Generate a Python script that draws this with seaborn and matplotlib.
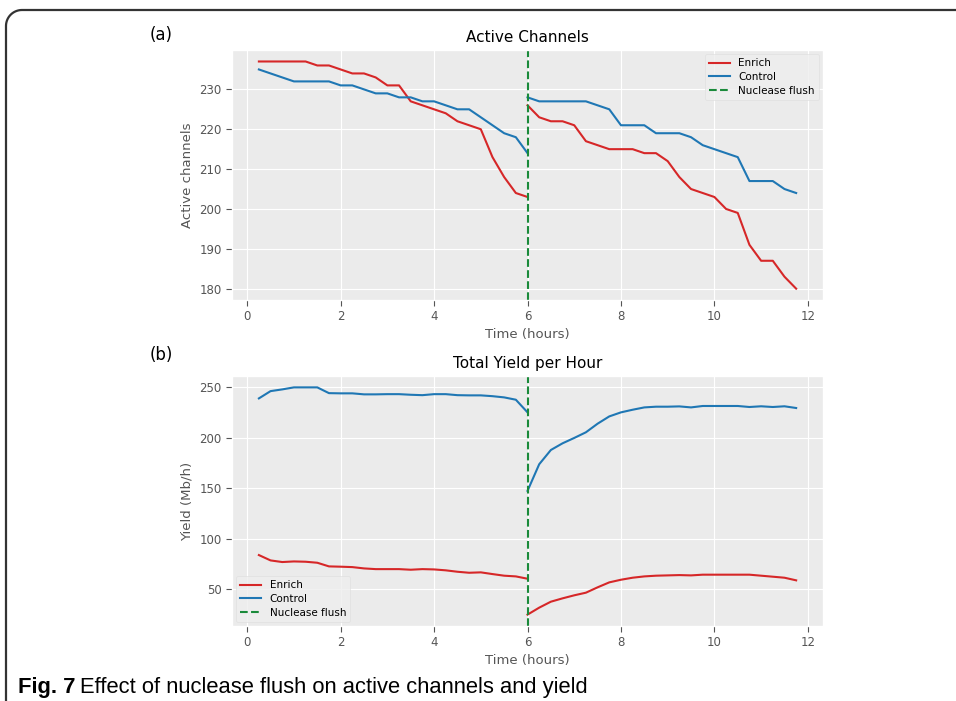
import numpy as np
import pandas as pd
import seaborn as sns
import matplotlib.pyplot as plt
from matplotlib.lines import Line2D

# == Data == #

time_before = [0.25, 0.5, 0.75, 1.0, 1.25, 1.5, 1.75, 2.0, 2.25, 2.5, 2.75, 3.0,
               3.25, 3.5, 3.75, 4.0, 4.25, 4.5, 4.75, 5.0, 5.25, 5.5, 5.75, 6.0]
time_after = [6.0, 6.25, 6.5, 6.75, 7.0, 7.25, 7.5, 7.75, 8.0, 8.25, 8.5, 8.75,
              9.0, 9.25, 9.5, 9.75, 10.0, 10.25, 10.5, 10.75, 11.0, 11.25, 11.5, 11.75]

channels_enrich_before = [237, 237, 237, 237, 237, 236, 236, 235, 234, 234, 233, 231,
                          231, 227, 226, 225, 224, 222, 221, 220, 213, 208, 204, 203]
channels_enrich_after = [226, 223, 222, 222, 221, 217, 216, 215, 215, 215, 214, 214,
                         212, 208, 205, 204, 203, 200, 199, 191, 187, 187, 183, 180]
channels_control_before = [235, 234, 233, 232, 232, 232, 232, 231, 231, 230, 229, 229,
                           228, 228, 227, 227, 226, 225, 225, 223, 221, 219, 218, 214]
channels_control_after = [228, 227, 227, 227, 227, 227, 226, 225, 221, 221, 221, 219,
                          219, 219, 218, 216, 215, 214, 213, 207, 207, 207, 205, 204]

yield_enrich_before = [83.9, 78.6, 77.0, 77.6, 77.3, 76.3, 72.7, 72.4, 72.0, 70.7, 70.0, 70.0,
                       70.0, 69.4, 70.0, 69.7, 68.8, 67.4, 66.4, 66.8, 65.1, 63.5, 62.8, 60.5]
yield_enrich_after = [25.0, 31.9, 37.8, 41.1, 44.1, 46.7, 52.0, 56.9, 59.5, 61.5, 62.8, 63.5,
                      63.8, 64.1, 63.8, 64.5, 64.5, 64.5, 64.5, 64.5, 63.5, 62.5, 61.5, 58.9]
yield_control_before = [238.8, 246.0, 247.7, 249.7, 249.7, 249.7, 244.0, 243.8, 243.8, 242.8, 242.8, 243.0,
                        243.0, 242.4, 242.0, 243.0, 243.0, 242.0, 241.8, 241.8, 241.0, 239.8, 237.5, 225.0]
yield_control_after = [147.4, 173.7, 187.8, 194.4, 199.7, 205.3, 213.8, 221.0, 225.0, 227.6, 229.9, 230.6,
                       230.6, 230.9, 229.9, 231.3, 231.3, 231.3, 231.3, 230.3, 231.0, 230.3, 231.0, 229.3]

flush_time = 6.0


def make_frame(enrich_before, enrich_after, control_before, control_after):
    parts = []
    for name, seg, t, v in [('Enrich', 'before', time_before, enrich_before),
                            ('Enrich', 'after', time_after, enrich_after),
                            ('Control', 'before', time_before, control_before),
                            ('Control', 'after', time_after, control_after)]:
        parts.append(pd.DataFrame({'time': t, 'value': v,
                                   'series': name, 'segment': name + seg}))
    return pd.concat(parts, ignore_index=True)


dfChannels = make_frame(channels_enrich_before, channels_enrich_after,
                        channels_control_before, channels_control_after)
dfYield = make_frame(yield_enrich_before, yield_enrich_after,
                     yield_control_before, yield_control_after)

# == Style == #

plt.style.use('ggplot')
plt.rcParams['font.family'] = ['DejaVu Sans']
plt.rcParams['axes.facecolor'] = '#EBEBEB'
palette = {'Enrich': '#d62728', 'Control': '#1f77b4'}
flush_color = '#1a8a3a'

fig = plt.figure(figsize=(9.56, 7.01), dpi=100)
fig.patch.set_facecolor('white')
ax1 = fig.add_axes([0.2427, 0.572, 0.6182, 0.3565])
ax2 = fig.add_axes([0.2427, 0.107, 0.6182, 0.3566])


def draw_panel(ax, df, title, ylabel, legend_loc):
    sns.lineplot(data=df, x='time', y='value', hue='series', units='segment',
                 estimator=None, palette=palette, hue_order=['Enrich', 'Control'],
                 linewidth=1.5, legend=False, ax=ax)
    ax.axvline(flush_time, color=flush_color, linestyle='--', linewidth=1.5)
    ax.set_title(title, fontsize=11, color='black', pad=6)
    ax.set_xlabel('Time (hours)', fontsize=9.5, color='#555555', labelpad=3)
    ax.set_ylabel(ylabel, fontsize=9.5, color='#555555', labelpad=4)
    ax.set_xticks([0, 2, 4, 6, 8, 10, 12])
    ax.tick_params(labelsize=8.5, colors='#555555', length=4)
    handles = [Line2D([], [], color=palette['Enrich'], lw=1.5),
               Line2D([], [], color=palette['Control'], lw=1.5),
               Line2D([], [], color=flush_color, lw=1.5, linestyle='--')]
    leg = ax.legend(handles, ['Enrich', 'Control', 'Nuclease flush'],
                    loc=legend_loc, fontsize=7.5, frameon=True,
                    labelspacing=0.35, borderaxespad=0.4)
    leg.get_frame().set_facecolor('#EEEEEE')
    leg.get_frame().set_edgecolor('#DDDDDD')


draw_panel(ax1, dfChannels, 'Active Channels', 'Active channels', 'upper right')
draw_panel(ax2, dfYield, 'Total Yield per Hour', 'Yield (Mb/h)', 'lower left')
ax1.set_yticks([180, 190, 200, 210, 220, 230])
ax2.set_yticks([50, 100, 150, 200, 250])

fig.text(150 / 956, 1 - 35 / 701, '(a)', fontsize=12, va='center', ha='left', color='black')
fig.text(150 / 956, 1 - 355 / 701, '(b)', fontsize=12, va='center', ha='left', color='black')

# frame of the figure box (rounded top-left corner)
r = 16
ang = np.linspace(np.pi, np.pi / 2, 20)
bx = np.concatenate([[6, 6], 6 + r + r * np.cos(ang), [960]])
by = np.concatenate([[705, 10 + r], 10 + r - r * np.sin(ang), [10]])
fig.add_artist(Line2D(bx / 956, 1 - by / 701, color='#333333', lw=1.6,
                      transform=fig.transFigure))

# caption
cap_font = ['Liberation Sans Narrow', 'Liberation Sans', 'DejaVu Sans']
t1 = fig.text(18 / 956, 1 - 688 / 701, 'Fig. 7', fontsize=15.8, fontweight='bold',
              family=cap_font, va='center', ha='left', color='black')
fig.canvas.draw()
bb = t1.get_window_extent(renderer=fig.canvas.get_renderer())
fig.text(bb.x1 / 956 + 5 / 956, 1 - 688 / 701, 'Effect of nuclease flush on active channels and yield',
         fontsize=15.8, family=cap_font, va='center', ha='left', color='black')

fig.savefig('out.png', dpi=100)
